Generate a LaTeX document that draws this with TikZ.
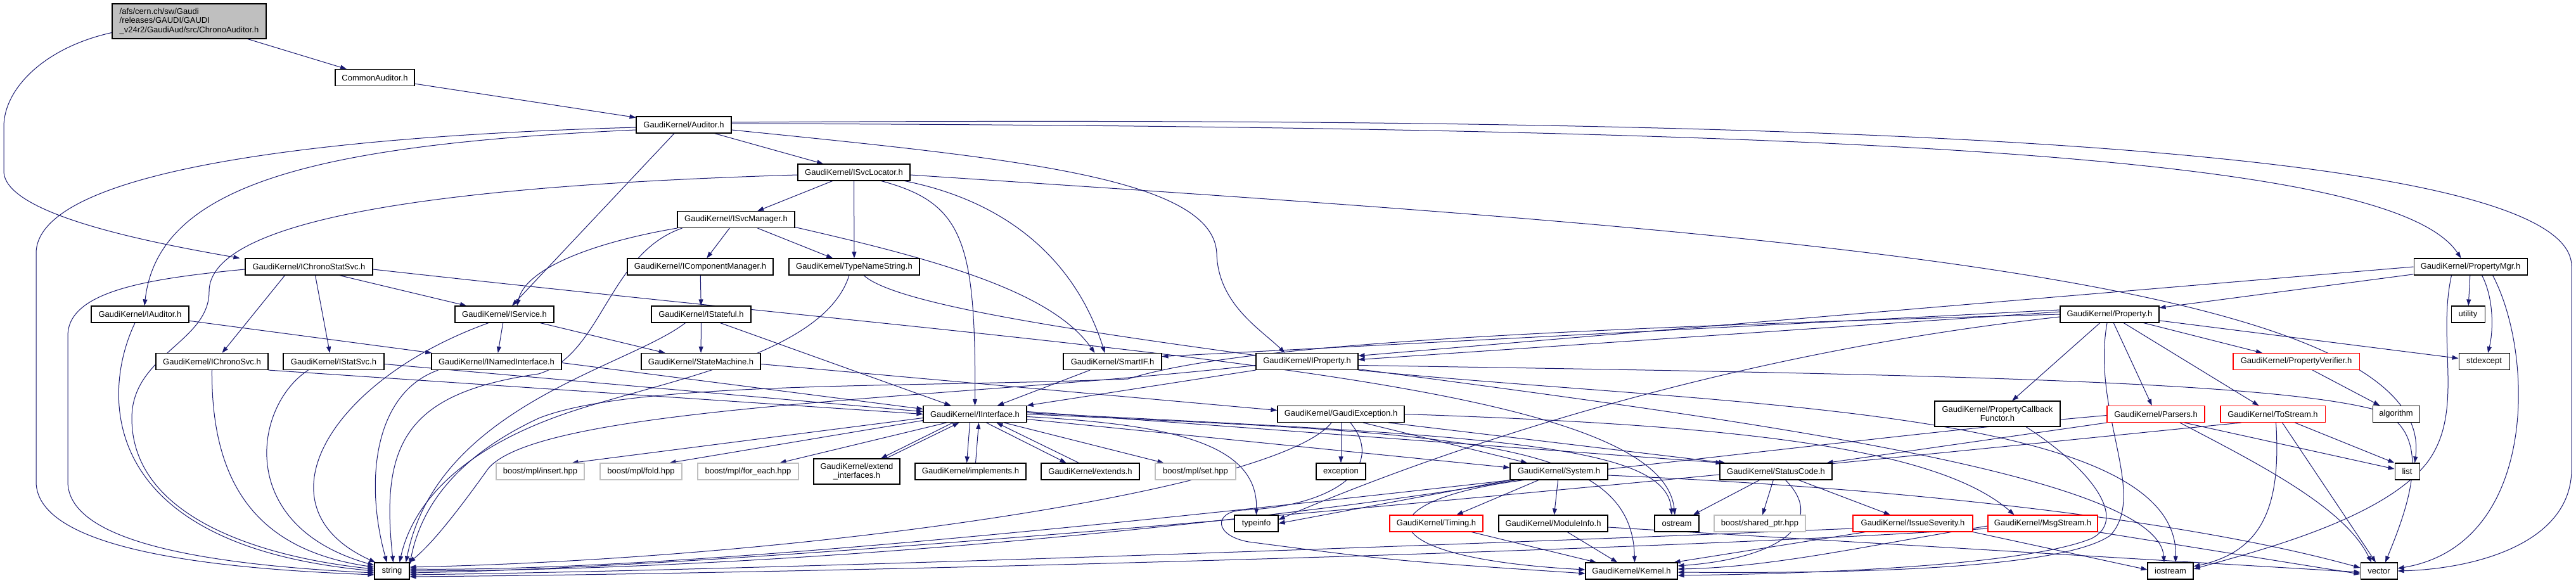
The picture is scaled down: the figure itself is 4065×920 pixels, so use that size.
\documentclass[tikz,border=0pt]{standalone}
\usepackage{fontspec}
\setmainfont{Liberation Sans}
\usetikzlibrary{arrows.meta}
\pgfdeclarelayer{bg}
\pgfsetlayers{bg,main}
\definecolor{edgec}{HTML}{191970}
\definecolor{grayb}{HTML}{BFBFBF}
\definecolor{redb}{HTML}{FF0000}
\tikzset{
  nbox/.style={draw=black, line width=1.1pt, fill=white, inner sep=0pt, minimum height=26pt, font=\fontsize{13}{14.5}\selectfont, text=black, align=center},
  gbox/.style={nbox, draw=grayb},
  rbox/.style={nbox, draw=redb},
  dep/.style={draw=edgec, line width=1pt, -{Triangle[length=10pt,width=7pt]}},
}
\begin{document}
\begin{tikzpicture}[x=1pt,y=-1pt]
\useasboundingbox (0,0) rectangle (4065,920);
% ---------- nodes ----------
\node[nbox, fill=grayb, minimum width=243pt, minimum height=55pt, align=left] (root) at (298.5,33.5) {/afs/cern.ch/sw/Gaudi\\/releases/GAUDI/GAUDI\\\_v24r2/GaudiAud/src/ChronoAuditor.h};
\node[nbox, minimum width=125pt] (common) at (591.5,122.5) {CommonAuditor.h};
\node[nbox, minimum width=150pt] (auditor) at (1079,197) {GaudiKernel/Auditor.h};
\node[nbox, minimum width=201pt] (ichronostat) at (487.5,421) {GaudiKernel/IChronoStatSvc.h};
\node[nbox, minimum width=177pt] (isvcloc) at (1347.5,272) {GaudiKernel/ISvcLocator.h};
\node[nbox, minimum width=185pt] (isvcmgr) at (1161.5,346.5) {GaudiKernel/ISvcManager.h};
\node[nbox, minimum width=230pt] (icompmgr) at (1105,421) {GaudiKernel/IComponentManager.h};
\node[nbox, minimum width=206pt] (typename) at (1348,421) {GaudiKernel/TypeNameString.h};
\node[nbox, minimum width=179pt] (propmgr) at (3898.5,421) {GaudiKernel/PropertyMgr.h};
\node[nbox, minimum width=154pt] (iauditor) at (221,496) {GaudiKernel/IAuditor.h};
\node[nbox, minimum width=156pt] (iservice) at (796,496) {GaudiKernel/IService.h};
\node[nbox, minimum width=157pt] (istateful) at (1106.5,496) {GaudiKernel/IStateful.h};
\node[nbox, minimum width=156pt] (property) at (3329,496) {GaudiKernel/Property.h};
\node[nbox, minimum width=53pt] (utility) at (3894.5,496) {utility};
\node[nbox, minimum width=177pt] (ichrono) at (334.5,570.5) {GaudiKernel/IChronoSvc.h};
\node[nbox, minimum width=159pt] (istat) at (526.5,570.5) {GaudiKernel/IStatSvc.h};
\node[nbox, minimum width=205pt] (inamed) at (783.5,570.5) {GaudiKernel/INamedInterface.h};
\node[nbox, minimum width=188pt] (statemachine) at (1106,570.5) {GaudiKernel/StateMachine.h};
\node[nbox, minimum width=155pt] (smartif) at (1755.5,570.5) {GaudiKernel/SmartIF.h};
\node[nbox, minimum width=161pt] (iproperty) at (2062.5,570.5) {GaudiKernel/IProperty.h};
\node[rbox, minimum width=199pt] (propverif) at (3623.5,570.5) {GaudiKernel/PropertyVerifier.h};
\node[nbox, minimum width=80pt] (stdexcept) at (3920,570.5) {stdexcept};
\node[nbox, minimum width=163pt] (iinterface) at (1538.5,653.5) {GaudiKernel/IInterface.h};
\node[nbox, minimum width=200pt] (gaudiexc) at (2116,653.5) {GaudiKernel/GaudiException.h};
\node[nbox, minimum width=198pt, minimum height=40pt] (propcb) at (3152,653) {GaudiKernel/PropertyCallback\\Functor.h};
\node[rbox, minimum width=154pt] (parsers) at (3402,653.5) {GaudiKernel/Parsers.h};
\node[rbox, minimum width=165pt] (tostream) at (3586.5,653.5) {GaudiKernel/ToStream.h};
\node[nbox, minimum width=74pt] (algorithm) at (3781,653.5) {algorithm};
\node[gbox, minimum width=139pt] (insert) at (852.5,744) {boost/mpl/insert.hpp};
\node[gbox, minimum width=129pt] (fold) at (1011.5,744) {boost/mpl/fold.hpp};
\node[gbox, minimum width=159pt] (foreach) at (1180.5,744) {boost/mpl/for\_each.hpp};
\node[nbox, minimum width=136pt, minimum height=40pt] (extendif) at (1352,744) {GaudiKernel/extend\\\_interfaces.h};
\node[nbox, minimum width=175pt] (implements) at (1531.5,744) {GaudiKernel/implements.h};
\node[nbox, minimum width=155pt] (extends) at (1720.5,744) {GaudiKernel/extends.h};
\node[gbox, minimum width=127pt] (set) at (1886.5,744) {boost/mpl/set.hpp};
\node[nbox, minimum width=78pt] (exception) at (2116,744) {exception};
\node[nbox, minimum width=154pt] (system) at (2460,744) {GaudiKernel/System.h};
\node[nbox, minimum width=177pt] (statuscode) at (2802.5,744) {GaudiKernel/StatusCode.h};
\node[nbox, minimum width=39pt] (list) at (3798.5,744) {list};
\node[nbox, minimum width=69pt] (typeinfo) at (1982.5,826) {typeinfo};
\node[rbox, minimum width=147pt] (timing) at (2266.5,826) {GaudiKernel/Timing.h};
\node[nbox, minimum width=172pt] (moduleinfo) at (2451,826) {GaudiKernel/ModuleInfo.h};
\node[nbox, minimum width=70pt] (ostream) at (2646,826) {ostream};
\node[gbox, minimum width=144pt] (sharedptr) at (2777,826) {boost/shared\_ptr.hpp};
\node[rbox, minimum width=189pt] (issue) at (3018.5,826) {GaudiKernel/IssueSeverity.h};
\node[rbox, minimum width=173pt] (msgstream) at (3223.5,826) {GaudiKernel/MsgStream.h};
\node[nbox, minimum width=55pt] (string) at (618.5,901) {string};
\node[nbox, minimum width=145pt] (kernel) at (2574.5,901) {GaudiKernel/Kernel.h};
\node[nbox, minimum width=72pt] (iostream) at (3425,901) {iostream};
\node[nbox, minimum width=58pt] (vector) at (3754,901) {vector};
% ---------- edges ----------
\begin{pgfonlayer}{bg}
\draw[dep] (root) -- (common);
\draw[dep] ([yshift=-18pt]root.west) .. controls (70,75) and (6,140) .. (6,200) -- (6,270) .. controls (6,340) and (250,385) .. ([xshift=-8pt]ichronostat.north west);
\draw[dep] (common) -- (auditor);
% Auditor
\draw[dep] ([yshift=-4pt]auditor.west) .. controls (500,215) and (57,270) .. (57,400) -- (57,760) .. controls (57,870) and (350,898) .. ([yshift=-6pt]string.west);
\draw[dep] ([yshift=-8pt]auditor.west) .. controls (500,228) and (250,290) .. ([xshift=7pt]iauditor.north);
\draw[dep] ([xshift=-15pt]auditor.south) -- ([xshift=12pt]iservice.north);
\draw[dep] (auditor) -- (isvcloc);
\draw[dep] ([yshift=-8pt]auditor.east) .. controls (1600,250) and (1915,280) .. (1920,400) .. controls (1922,480) and (1990,520) .. ([xshift=-35pt]iproperty.north);
\draw[dep] ([yshift=2pt]auditor.east) .. controls (3000,200) and (3780,250) .. ([xshift=-15pt]propmgr.north);
\draw[dep] ([yshift=4pt]auditor.east) .. controls (2500,185) and (4058,200) .. (4058,420) -- (4058,740) .. controls (4058,860) and (3900,898) .. (vector.east);
% IChronoStatSvc
\draw[dep] ([yshift=-4pt]ichronostat.west) .. controls (230,440) and (107,460) .. (107,530) -- (107,760) .. controls (107,850) and (300,890) .. ([yshift=-3pt]string.west);
\draw[dep] ([xshift=-38pt]ichronostat.south) -- ([xshift=16pt]ichrono.north);
\draw[dep] ([xshift=10pt]ichronostat.south) -- ([xshift=-6pt]istat.north);
\draw[dep] ([xshift=48pt]ichronostat.south) -- ([xshift=-60pt]iservice.north);
\draw[dep] ([yshift=-4pt]ichronostat.east) .. controls (1800,560) and (2620,600) .. ([xshift=-3pt]ostream.north);
% IAuditor / IService
\draw[dep] ([xshift=-8pt]iauditor.south) .. controls (160,620) and (150,860) .. (string.west);
\draw[dep] (iauditor) -- (inamed);
\draw[dep] ([xshift=-25pt]iservice.south) .. controls (520,600) and (400,800) .. ([xshift=2pt]string.north west);
\draw[dep] (iservice) -- (inamed);
\draw[dep] (iservice) -- (statemachine);
% IChronoSvc, IStatSvc, INamedInterface
\draw[dep] (ichrono.south) .. controls (333,780) and (420,870) .. ([yshift=6pt]string.west);
\draw[dep] (ichrono.south east) -- (iinterface.west);
\draw[dep] ([xshift=-40pt]istat.south) .. controls (400,640) and (370,830) .. ([yshift=9pt]string.west);
\draw[dep] ([yshift=-4pt]istat.east) -- ([yshift=4pt]iinterface.west);
\draw[dep] ([xshift=-92pt]inamed.south) .. controls (590,620) and (575,760) .. ([xshift=-8pt]string.north);
\draw[dep] ([yshift=-2pt]inamed.east) -- ([yshift=8pt]iinterface.west);
% ISvcLocator
\draw[dep] ([yshift=-4pt]isvcloc.west) .. controls (800,290) and (330,330) .. (330,460) .. controls (330,540) and (208,560) .. (208,660) .. controls (208,820) and (420,880) .. ([yshift=3pt]string.west);
\draw[dep] (isvcloc) -- (isvcmgr);
\draw[dep] (isvcloc) -- (typename);
\draw[dep] ([xshift=43pt]isvcloc.south) .. controls (1520,320) and (1540,380) .. (iinterface.north);
\draw[dep] ([xshift=80pt]isvcloc.south) .. controls (1600,320) and (1700,420) .. ([xshift=-12pt]smartif.north);
\draw[dep] ([yshift=-4pt]isvcloc.east) .. controls (2700,360) and (3850,430) .. ([xshift=12pt]list.north);
% ISvcManager
\draw[dep] (isvcmgr.south west) .. controls (950,380) and (830,420) .. ([xshift=20pt]iservice.north);
\draw[dep] ([xshift=8pt]isvcmgr.south west) .. controls (960,400) and (950,560) .. (850,590) .. controls (640,620) and (600,700) .. ([xshift=2pt]string.north);
\draw[dep] (isvcmgr) -- (icompmgr);
\draw[dep] (isvcmgr) -- (typename);
\draw[dep] ([yshift=-12pt]isvcmgr.east) .. controls (1480,410) and (1660,460) .. ([xshift=-28pt]smartif.north);
\draw[dep] (icompmgr) -- (istateful);
% TypeNameString
\draw[dep] ([xshift=-8pt]typename.south) .. controls (1300,560) and (1050,600) .. (900,650) .. controls (720,710) and (650,800) .. ([xshift=12pt]string.north);
\draw[dep] ([xshift=15pt]typename.south) .. controls (1500,560) and (3400,660) .. ([xshift=-10pt]iostream.north);
% IStateful, StateMachine, SmartIF
\draw[dep] ([xshift=-25pt]istateful.south) .. controls (990,580) and (690,640) .. ([xshift=-6pt]string.north east);
\draw[dep] (istateful) -- (statemachine);
\draw[dep] ([xshift=30pt]istateful.south) -- ([xshift=-38pt]iinterface.north);
\draw[dep] ([yshift=-4pt]statemachine.east) -- ([yshift=6pt]gaudiexc.west);
\draw[dep] (smartif) -- (iinterface);
% IProperty
\draw[dep] (iproperty.south west) -- (iinterface.north east);
\draw[dep] ([yshift=-6pt]iproperty.west) .. controls (1500,630) and (850,640) .. (770,740) .. controls (720,810) and (680,860) .. ([xshift=-1pt]string.north east);
\draw[dep] ([yshift=-6pt]iproperty.east) .. controls (3000,590) and (3600,600) .. (3760,650) .. controls (3840,690) and (3800,800) .. ([xshift=10pt]vector.north);
\draw[dep] (iproperty.south east) .. controls (2700,640) and (3440,640) .. ([xshift=8pt]iostream.north);
% PropertyMgr
\draw[dep] (propmgr) -- (property);
\draw[dep] (propmgr.west) -- ([yshift=9pt]iproperty.east);
\draw[dep] (propmgr) -- (utility);
\draw[dep] ([xshift=18pt]propmgr.south) .. controls (3935,470) and (3935,520) .. ([xshift=6pt]stdexcept.north);
\draw[dep] ([xshift=-30pt]propmgr.south) .. controls (3845,540) and (3890,650) .. (3830,730) .. controls (3760,820) and (3560,870) .. ([yshift=3pt]iostream.east);
\draw[dep] ([xshift=35pt]propmgr.south) .. controls (4000,560) and (4005,860) .. ([yshift=4pt]vector.east);
% Property
\draw[dep] ([yshift=4pt]property.west) -- ([yshift=3pt]iproperty.east);
\draw[dep] ([yshift=7pt]property.west) -- ([yshift=8pt]smartif.east);
\draw[dep] ([yshift=-4pt]property.west) .. controls (2700,560) and (2250,720) .. ([yshift=6pt]typeinfo.east);
\draw[dep] (property.west) .. controls (2400,520) and (1950,545) .. (1780,598) .. controls (1450,612) and (1000,600) .. (850,660) .. controls (700,730) and (660,820) .. ([yshift=10pt]string.east);
\draw[dep] ([xshift=-4pt]property.south) .. controls (3300,650) and (3390,780) .. (3330,845) .. controls (3250,900) and (2900,905) .. ([yshift=-2pt]kernel.east);
\draw[dep] (property) -- (propcb);
\draw[dep] (property) -- (parsers);
\draw[dep] (property) -- (tostream);
\draw[dep] (property) -- (propverif);
\draw[dep] (property) -- (stdexcept);
\draw[dep] (propverif) -- (algorithm);
% Parsers, ToStream, PropertyCallbackFunctor
\draw[dep] (parsers.south west) -- ([xshift=80pt]statuscode.north);
\draw[dep] ([yshift=-2pt]parsers.west) .. controls (2800,700) and (1300,905) .. ([yshift=3pt]string.east);
\draw[dep] ([xshift=45pt]parsers.south) -- ([yshift=4pt]list.west);
\draw[dep] ([xshift=38pt]parsers.south) .. controls (3560,730) and (3700,800) .. ([xshift=-12pt]vector.north);
\draw[dep] ([xshift=5pt]tostream.south) .. controls (3600,800) and (3570,870) .. ([yshift=7pt]iostream.east);
\draw[dep] ([xshift=15pt]tostream.south) -- ([xshift=-5pt]vector.north);
\draw[dep] ([xshift=35pt]tostream.south) -- (list.north west);
\draw[dep] ([xshift=-50pt]tostream.south) .. controls (3200,700) and (1400,890) .. ([yshift=-3pt]string.east);
\draw[dep] ([xshift=45pt]propcb.south) .. controls (3300,740) and (3360,820) .. (3300,850) .. controls (3200,890) and (2900,905) .. ([yshift=-7pt]kernel.east);
% IInterface
\draw[dep] ([yshift=-6pt]iinterface.west) -- ([xshift=50pt]insert.north);
\draw[dep] ([yshift=-10pt]iinterface.west) -- ([xshift=45pt]fold.north);
\draw[dep] ([xshift=-45pt]iinterface.south) -- ([xshift=50pt]foreach.north);
\draw[dep] ([xshift=-35pt]iinterface.south) -- ([xshift=38pt]extendif.north);
\draw[dep] ([xshift=46pt]extendif.north) -- ([xshift=-25pt]iinterface.south);
\draw[dep] ([xshift=-8pt]iinterface.south) -- ([xshift=-6pt]implements.north);
\draw[dep] ([xshift=8pt]implements.north) -- ([xshift=6pt]iinterface.south);
\draw[dep] ([xshift=18pt]iinterface.south) -- ([xshift=-38pt]extends.north);
\draw[dep] ([xshift=-18pt]extends.north) -- ([xshift=34pt]iinterface.south);
\draw[dep] ([xshift=46pt]iinterface.south) -- ([xshift=-50pt]set.north);
\draw[dep] ([yshift=-4pt]iinterface.east) .. controls (1850,670) and (1985,700) .. (typeinfo.north);
\draw[dep] ([yshift=4pt]iinterface.east) -- ([xshift=-85pt]statuscode.north);
\draw[dep] ([yshift=-8pt]iinterface.east) -- ([yshift=6pt]system.west);
\draw[dep] (iinterface.east) .. controls (2300,685) and (2575,690) .. ([xshift=5pt]kernel.north);
\draw[dep] ([yshift=2pt]iinterface.east) .. controls (2350,688) and (2630,700) .. ([xshift=-8pt]ostream.north);
% GaudiException
\draw[dep] (gaudiexc) -- (exception);
\draw[dep] ([xshift=35pt]gaudiexc.south) -- ([xshift=-50pt]system.north);
\draw[dep] ([xshift=75pt]gaudiexc.south) -- ([xshift=-80pt]statuscode.north);
\draw[dep] ([xshift=-15pt]gaudiexc.south) .. controls (2020,770) and (1300,880) .. ([yshift=6pt]string.east);
\draw[dep] ([xshift=15pt]gaudiexc.south) .. controls (2190,740) and (2100,800) .. (1960,805) .. controls (1915,808) and (1915,845) .. (1970,855) .. controls (2200,885) .. ([yshift=-4pt]kernel.west);
\draw[dep] (gaudiexc.east) .. controls (2700,670) and (3050,700) .. ([xshift=-45pt]msgstream.north);
% System
\draw[dep] (system.south west) -- (typeinfo.east);
\draw[dep] ([xshift=10pt]system.south west) .. controls (2100,810) and (1300,900) .. (string.east);
\draw[dep] (system) -- (timing);
\draw[dep] (system) -- (moduleinfo);
\draw[dep] ([xshift=-55pt]system.south) .. controls (2150,790) and (2150,880) .. ([yshift=2pt]kernel.west);
\draw[dep] ([yshift=-6pt]system.east) .. controls (3000,770) and (3450,820) .. ([yshift=5pt]vector.west);
\draw[dep] (timing) -- (kernel);
\draw[dep] (moduleinfo) -- (kernel);
\draw[dep] ([yshift=-6pt]moduleinfo.east) -- ([yshift=-2pt]vector.west);
% StatusCode
\draw[dep] (statuscode) -- (ostream);
\draw[dep] (statuscode) -- (sharedptr);
\draw[dep] ([xshift=15pt]statuscode.south) .. controls (2880,820) and (2820,880) .. ([yshift=8pt]kernel.east);
\draw[dep] (statuscode) -- (issue);
% IssueSeverity, MsgStream
\draw[dep] ([xshift=-75pt]issue.south) -- ([xshift=-6pt]kernel.north east);
\draw[dep] (issue.south east) -- ([yshift=2pt]iostream.west);
\draw[dep] ([yshift=-8pt]issue.west) .. controls (2300,860) and (1200,900) .. ([yshift=-6pt]string.east);
\draw[dep] ([yshift=-4pt]msgstream.west) .. controls (2950,860) and (2800,895) .. ([yshift=3pt]kernel.east);
\draw[dep] (msgstream.south east) -- ([yshift=-5pt]vector.west);
\draw[dep] ([yshift=-8pt]msgstream.west) .. controls (2600,870) and (1300,905) .. ([yshift=-9pt]string.east);
\end{pgfonlayer}
\end{tikzpicture}
\end{document}
